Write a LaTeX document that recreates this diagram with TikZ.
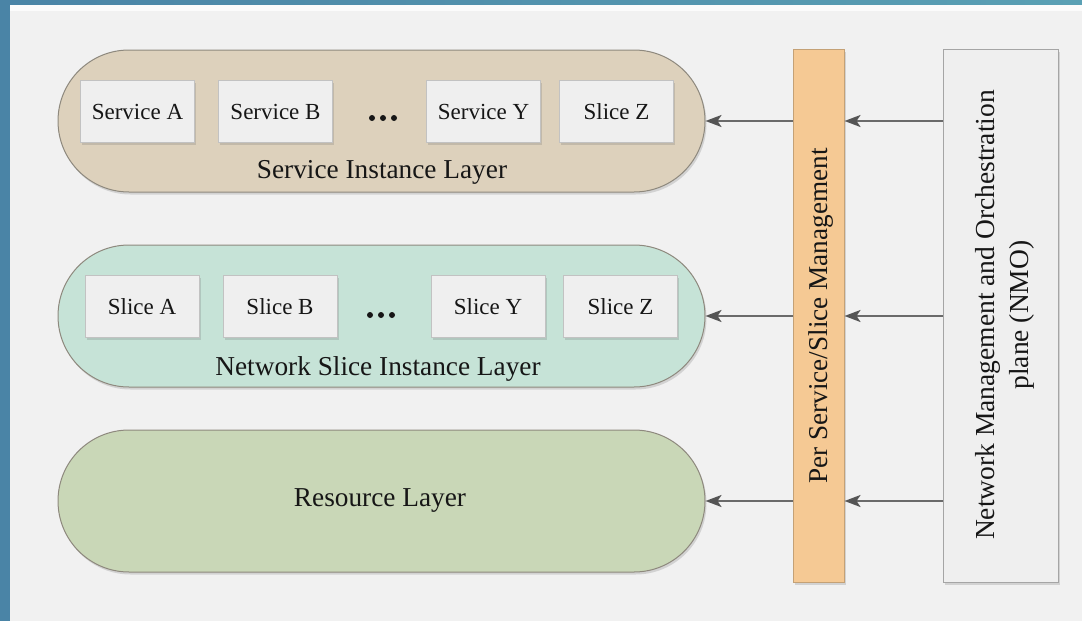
\documentclass[tikz,border=0pt]{standalone}
\usepackage{fontspec}
\setmainfont{Liberation Serif}
\usetikzlibrary{shapes.misc,shadows,arrows.meta,calc}

\definecolor{frameblue}{HTML}{4A84A6}
\definecolor{frameblue2}{HTML}{5AA0B4}
\definecolor{canvas}{HTML}{F1F1F1}
\definecolor{tan}{HTML}{DDD1BC}
\definecolor{mint}{HTML}{C6E3D7}
\definecolor{sage}{HTML}{C9D7B7}
\definecolor{peach}{HTML}{F5C994}
\definecolor{boxfill}{HTML}{EFEFEF}
\definecolor{boxline}{HTML}{C2C2C2}
\definecolor{pillline}{HTML}{8E897E}
\definecolor{arrowgray}{HTML}{6A6A6A}
\definecolor{tipgray}{HTML}{555555}
\definecolor{ink}{HTML}{161616}

\tikzset{
  softshadow/.style={drop shadow={shadow xshift=1.5pt, shadow yshift=-2.5pt, opacity=0.22, fill=black!60}},
  pill/.style={rounded rectangle, draw=pillline, line width=1pt, minimum width=647pt,
    minimum height=142pt, inner sep=0pt, softshadow},
  item/.style={rectangle, draw=boxline, fill=boxfill, line width=1pt, minimum width=114pt,
    minimum height=62pt, inner sep=0pt, text=ink, font=\fontsize{23}{26}\selectfont, softshadow},
  layerlabel/.style={text=ink, font=\fontsize{27.3}{30}\selectfont, inner sep=0pt},
  feed/.style={draw=arrowgray, line width=2.2pt,
    -{Stealth[length=16pt,width=12pt,inset=4pt,color=tipgray]}},
}

\begin{document}
\begin{tikzpicture}[x=1pt,y=-1pt]
  % page and frame
  \useasboundingbox (0,0) rectangle (1082,621);
  \fill[canvas] (0,0) rectangle (1082,621);
  \fill[frameblue] (0,0) rectangle (10,621);
  \shade[left color=frameblue, right color=frameblue2] (0,0) rectangle (1082,5);
  \fill[white!70!canvas] (10,5) rectangle (1082,11);

  % layers
  \node[pill, fill=tan]  (svc) at (381.5,121) {};
  \node[pill, fill=mint] (nsi) at (381.5,316) {};
  \node[pill, fill=sage] (res) at (381.5,501) {};

  \node[layerlabel] (svclbl) at (382,172) {Service Instance Layer};
  \node[layerlabel] (nsilbl) at (378,369) {Network Slice Instance Layer};
  \node[layerlabel] (reslbl) at (380,501) {Resource Layer};

  % service instances
  \node[item] (sa) at (137.5,111.5) {Service A};
  \node[item] (sb) at (275.5,111.5) {Service B};
  \node[item] (sy) at (483.5,111.5) {Service Y};
  \node[item] (sz) at (616.5,111.5) {Slice Z};
  \foreach \i in {0,1,2} \fill[ink] (372+\i*11,118) circle (3pt);

  % network slice instances
  \node[item] (na) at (142,306.5) {Slice A};
  \node[item] (nb) at (280,306.5) {Slice B};
  \node[item] (ny) at (488,306.5) {Slice Y};
  \node[item] (nz) at (620.5,306.5) {Slice Z};
  \foreach \i in {0,1,2} \fill[ink] (370+\i*11,315) circle (3pt);

  % management columns
  \node[rectangle, draw=peach!80!black, fill=peach, line width=1pt, minimum width=51pt,
        minimum height=533pt, inner sep=0pt, softshadow] (mgmt) at (818.5,315.5) {};
  \node[rotate=90, text=ink, font=\fontsize{27.2}{30}\selectfont, inner sep=0pt]
        (mgmtlbl) at (821,316) {Per Service/Slice Management};

  \node[rectangle, draw=boxline!85!black, fill=boxfill, line width=1pt, minimum width=115pt,
        minimum height=533pt, inner sep=0pt, softshadow] (nmo) at (1000.5,315.5) {};
  \node[rotate=90, text=ink, font=\fontsize{27.5}{34}\selectfont, inner sep=0pt, align=center]
        (nmolbl) at (1005,315) {Network Management and Orchestration\\plane (NMO)};

  % control flows
  \draw[feed] (mgmt.west |- svc.east) -- (svc.east);
  \draw[feed] (mgmt.west |- nsi.east) -- (nsi.east);
  \draw[feed] (mgmt.west |- res.east) -- (res.east);
  \draw[feed] (nmo.west |- svc.east) -- (mgmt.east |- svc.east);
  \draw[feed] (nmo.west |- nsi.east) -- (mgmt.east |- nsi.east);
  \draw[feed] (nmo.west |- res.east) -- (mgmt.east |- res.east);
\end{tikzpicture}
\end{document}
